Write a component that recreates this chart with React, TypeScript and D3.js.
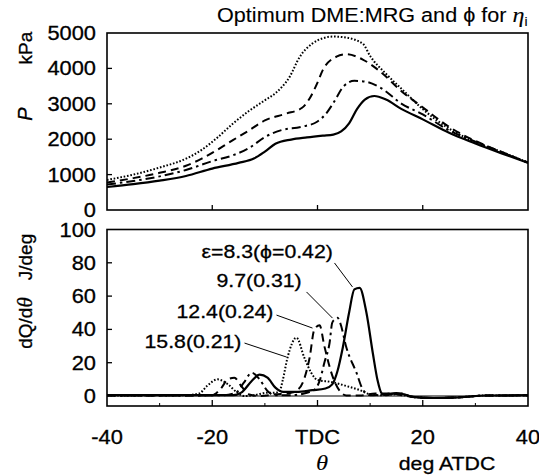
import React from "react";
import * as d3 from "d3";

// ---------- Data ----------
// Cylinder pressure P (kPa) vs crank angle theta (deg ATDC)
const pSolidTheta = [-40, -35, -30, -25, -20, -15, -12, -10, -8, -5, -2, 1, 3, 4.5, 6, 7.5, 9, 10.8, 13, 16, 20, 25, 30, 35, 40];
const pSolidVal = [650, 730, 830, 960, 1170, 1330, 1460, 1650, 1870, 1990, 2050, 2100, 2130, 2220, 2450, 2850, 3120, 3220, 3120, 2850, 2560, 2180, 1880, 1600, 1330];

const pDashDotTheta = [-40, -35, -30, -25, -20, -16, -13, -10, -7, -3, 0, 1.5, 3, 5, 7, 9, 12, 16, 20, 25, 30, 35, 40];
const pDashDotVal = [720, 820, 950, 1130, 1380, 1550, 1750, 2060, 2250, 2350, 2500, 2700, 3020, 3500, 3650, 3630, 3450, 3000, 2700, 2250, 1930, 1630, 1340];

const pDashedTheta = [-40, -35, -30, -25, -22, -16, -13, -10, -6, -3, -1.5, 0, 1, 3.6, 5.5, 8.6, 12, 16, 20, 25, 30, 35, 40];
const pDashedVal = [780, 900, 1050, 1250, 1450, 1980, 2250, 2530, 2720, 2880, 3150, 3600, 3950, 4330, 4400, 4250, 3900, 3350, 2900, 2350, 1950, 1640, 1340];

const pDottedTheta = [-40, -35, -30, -25, -22, -19, -16, -13, -10, -8, -5.3, -3.4, -1, 1, 3, 5, 8.6, 10, 13, 16.2, 20, 22.6, 25, 28.9, 35, 40];
const pDottedVal = [850, 1000, 1200, 1450, 1700, 2050, 2450, 2800, 3100, 3300, 3760, 4320, 4700, 4850, 4900, 4880, 4700, 4350, 3850, 3390, 2850, 2540, 2300, 1990, 1640, 1340];

// Heat release rate dQ/dtheta (J/deg)
const hSolidTheta = [-40, -30, -20, -16, -14.5, -12.5, -11, -9.5, -8, -6.5, -4, -1, 1.5, 2.8, 3.8, 4.8, 6, 7, 8, 9.3, 10.5, 11.4, 12.2, 13, 15, 16.5, 18, 22, 27, 32, 40];
const hSolidVal = [0.5, 0.5, 0.5, 0.5, 2, 9, 12.8, 11, 5, 2.5, 2.5, 3.5, 4.5, 7, 15, 29, 50, 64, 65, 50, 26, 9.6, 1.5, 0.5, 1.8, 1, -0.5, -1.2, -0.8, 0.3, 0.5];

const hDashDotTheta = [-40, -25, -18, -15.5, -14, -12.5, -11, -9.5, -8, -5, -2, -0.5, 0.5, 1.3, 2.3, 2.8, 3.3, 3.8, 4.3, 5.5, 7.4, 8.6, 10, 12, 14, 16, 18, 22, 27, 32, 40];
const hDashDotVal = [0.3, 0.3, 0.5, 2, 8, 14, 10, 3, 0.5, 0.5, 2, 4, 10, 20, 32, 44, 46, 47, 44, 29, 14, 4, 0.5, 0.8, 1.5, 1.5, -0.5, -1.2, -0.8, 0.3, 0.4];

const hDashedTheta = [-40, -25, -20, -18.5, -17, -15.8, -14.5, -13, -11, -8, -5, -4.1, -2.8, -1.5, -0.6, 0.4, 1.3, 2.9, 4.5, 5.5, 8, 11, 14, 16, 18, 22, 27, 32, 40];
const hDashedVal = [0.3, 0.3, 0.5, 4, 10, 11, 6, 1, 0, 1, 2, 3, 8, 23, 40, 42.5, 30, 11.5, 2, 0.3, 0.3, 1.5, 1.5, 0.5, -0.5, -1.2, -0.8, 0.3, 0.4];

const hDottedTheta = [-40, -25, -22.5, -21, -19, -17, -15.4, -14, -12, -9.5, -8, -7.2, -6.6, -5.7, -4, -2.5, -1.2, 0, 2.5, 5.5, 8, 10, 12, 15, 18, 22, 27, 32, 40];
const hDottedVal = [0.3, 0.5, 1.5, 6, 10, 7, 2.4, 0, 0.5, 2, 2, 3, 9.6, 23, 35, 23, 14, 9.6, 8.5, 6, 3.6, 1, 0.5, 1, -0.5, -1.2, -0.8, 0.3, 0.3];

const xTicks = [-40, -20, 0, 20, 40];
const xTickLabels = ["-40", "-20", "TDC", "20", "40"];
const xMinorTicks = [-30, -10, 10, 30];
const pTicks = [0, 1000, 2000, 3000, 4000, 5000];
const hTicks = [0, 20, 40, 60, 80, 100];

// annotation labels, positioned in data coordinates (theta, J/deg)
const annoText = ["ε=8.3(ϕ=0.42)", "9.7(0.31)", "12.4(0.24)", "15.8(0.21)"];
const annoTextPos = [[-22.04, 82.9], [-19.19, 65.5], [-26.79, 46.8], [-32.87, 28.8]];
const annoLineFrom = [[3.23, 79.9], [-2.09, 62.5], [-7.79, 48.6], [-13.87, 31.8]];
const annoLineTo = [[6.65, 65.5], [2.85, 46.8], [-0.95, 40.8], [-5.89, 23.4]];

// ---------- Styles ----------
const styles = [
  { dash: null, width: 2.2 },
  { dash: "9,4,2.5,4", width: 2 },
  { dash: "8,5", width: 2 },
  { dash: "1.6,1.8", width: 2 },
];

const FONT = "'Liberation Sans', Arial, sans-serif";
const SERIF = "'Liberation Serif', 'Times New Roman', serif";
const SX = 1.12; // reference text is horizontally stretched

function T({ x, y, anchor = "start", size = 19, children, ...rest }: any) {
  return (
    <text transform={`translate(${x},${y}) scale(${SX},1)`} textAnchor={anchor} fontSize={size}
      stroke="#000" strokeWidth={0.3} fill="#000" {...rest}>
      {children}
    </text>
  );
}

export default function App() {
  const W = 539, H = 475;
  const x = d3.scaleLinear().domain([-40, 40]).range([107, 528]);
  const yP = d3.scaleLinear().domain([0, 5000]).range([210, 33]);
  const yH = d3.scaleLinear().domain([-6, 100]).range([406, 229.5]);

  const mk = (ys: d3.ScaleLinear<number, number>) =>
    d3
      .line<[number, number]>()
      .x((d) => x(d[0]))
      .y((d) => ys(d[1]))
      .curve(d3.curveMonotoneX);

  const lineP = mk(yP);
  const lineH = mk(yH);
  const zip = (a: number[], b: number[]) => a.map((v, i) => [v, b[i]] as [number, number]);

  const pSeries = [
    zip(pSolidTheta, pSolidVal),
    zip(pDashDotTheta, pDashDotVal),
    zip(pDashedTheta, pDashedVal),
    zip(pDottedTheta, pDottedVal),
  ];
  const hSeries = [
    zip(hSolidTheta, hSolidVal),
    zip(hDashDotTheta, hDashDotVal),
    zip(hDashedTheta, hDashedVal),
    zip(hDottedTheta, hDottedVal),
  ];

  const tickFs = 19.5;
  const [x0, x1] = x.range();

  return (
    <svg width={W} height={H} style={{ position: "absolute", left: 0, top: 0, background: "#fff" }} fontFamily={FONT}>
      <defs>
        <clipPath id="cpTop"><rect x={x0} y={33} width={x1 - x0} height={177} /></clipPath>
        <clipPath id="cpBot"><rect x={x0} y={229.5} width={x1 - x0} height={176.5} /></clipPath>
      </defs>
      {/* Title */}
      <T x={217} y={22} size={19.3} strokeWidth={0.1}>
        Optimum DME:MRG and ϕ for <tspan fontFamily={SERIF} fontStyle="italic" fontSize={21.5}>η</tspan>
        <tspan fontSize={12.5} dy={4}>i</tspan>
      </T>

      {/* ----- Top panel ----- */}
      <g clipPath="url(#cpTop)">
        {pSeries.map((s, i) => (
          <path key={i} d={lineP(s) || ""} fill="none" stroke="#000" strokeWidth={styles[i].width}
            strokeDasharray={styles[i].dash || undefined} />
        ))}
      </g>
      <rect x={x0} y={33} width={x1 - x0} height={177} fill="none" stroke="#000" strokeWidth={1.6} />
      {pTicks.slice(1, -1).map((t) => (
        <line key={t} x1={x0} x2={x0 + 5} y1={yP(t)} y2={yP(t)} stroke="#000" strokeWidth={1.3} />
      ))}
      {[-20, 0, 20].map((t) => (
        <line key={t} x1={x(t)} x2={x(t)} y1={210} y2={205} stroke="#000" strokeWidth={1.3} />
      ))}
      {pTicks.map((t) => (
        <T key={t} x={96} y={yP(t) + 7} anchor="end" size={tickFs}>{t}</T>
      ))}
      <text transform={`translate(32,48) rotate(-90)`} textAnchor="middle" fontSize={19} stroke="#000" strokeWidth={0.3}>kPa</text>
      <text transform={`translate(32,114) rotate(-90)`} textAnchor="middle" fontSize={20} fontStyle="italic" stroke="#000" strokeWidth={0.3}>P</text>

      {/* ----- Bottom panel ----- */}
      <line x1={x0} x2={x1} y1={yH(0)} y2={yH(0)} stroke="#000" strokeWidth={1} />
      <g clipPath="url(#cpBot)">
        {hSeries.map((s, i) => (
          <path key={i} d={lineH(s) || ""} fill="none" stroke="#000" strokeWidth={styles[i].width}
            strokeDasharray={styles[i].dash || undefined} />
        ))}
      </g>
      <rect x={x0} y={229.5} width={x1 - x0} height={176.5} fill="none" stroke="#000" strokeWidth={1.6} />
      {hTicks.slice(1, -1).map((t) => (
        <line key={t} x1={x0} x2={x0 + 5} y1={yH(t)} y2={yH(t)} stroke="#000" strokeWidth={1.3} />
      ))}
      {xTicks.slice(1, -1).map((t) => (
        <line key={t} x1={x(t)} x2={x(t)} y1={406} y2={400} stroke="#000" strokeWidth={1.3} />
      ))}
      {xMinorTicks.map((t) => (
        <line key={t} x1={x(t)} x2={x(t)} y1={406} y2={403} stroke="#000" strokeWidth={1} />
      ))}
      {hTicks.map((t) => (
        <T key={t} x={96} y={yH(t) + 7} anchor="end" size={tickFs}>{t}</T>
      ))}
      <text transform={`translate(32,323) rotate(-90)`} textAnchor="middle" fontSize={19} stroke="#000" strokeWidth={0.3}>
        dQ/d<tspan fontFamily={SERIF} fontStyle="italic" fontSize={21}>θ</tspan>
      </text>
      <text transform={`translate(32,257) rotate(-90)`} textAnchor="middle" fontSize={19} stroke="#000" strokeWidth={0.3}>J/deg</text>

      {xTicks.map((t, i) => (
        <T key={t} x={x(t)} y={444} anchor="middle" size={tickFs}>{xTickLabels[i]}</T>
      ))}
      <T x={322} y={470} anchor="middle" size={22} fontFamily={SERIF} fontStyle="italic" strokeWidth={0.1}>θ</T>
      <T x={447} y={470} anchor="middle" size={19}>deg ATDC</T>

      {/* annotations */}
      {annoText.map((t, i) => (
        <g key={t}>
          <T x={x(annoTextPos[i][0])} y={yH(annoTextPos[i][1])} size={19}>{t}</T>
          <line x1={x(annoLineFrom[i][0])} y1={yH(annoLineFrom[i][1])} x2={x(annoLineTo[i][0])} y2={yH(annoLineTo[i][1])}
            stroke="#000" strokeWidth={1} />
        </g>
      ))}
    </svg>
  );
}
